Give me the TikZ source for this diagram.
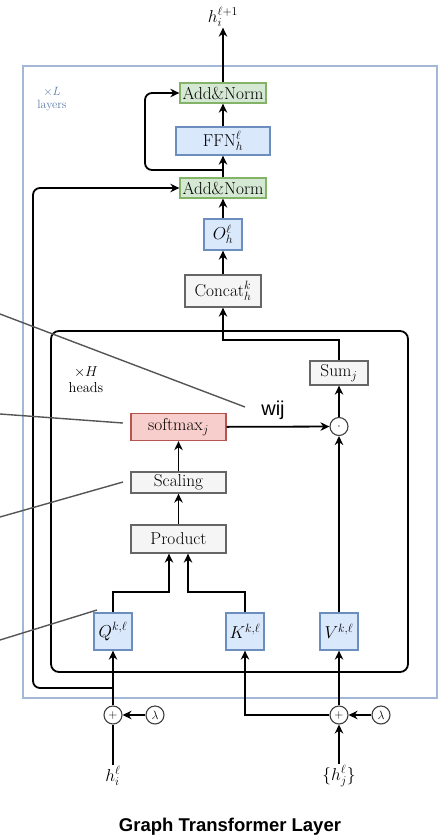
\documentclass[tikz,border=0pt]{standalone}
\usepackage{fontspec}
\newfontfamily\lsans{Liberation Sans}
\usetikzlibrary{arrows.meta,calc}
\definecolor{bfill}{HTML}{DAE8FC}\definecolor{bdraw}{HTML}{6C8EBF}
\definecolor{gfill}{HTML}{D5E8D4}\definecolor{gdraw}{HTML}{82B366}
\definecolor{rfill}{HTML}{F8CECC}\definecolor{rdraw}{HTML}{B85450}
\definecolor{kfill}{HTML}{F5F5F5}\definecolor{kdraw}{HTML}{666666}
\definecolor{outerc}{HTML}{A3B8D6}
\definecolor{layc}{HTML}{5B7BA6}
\definecolor{leadc}{HTML}{555555}
\begin{document}
\begin{tikzpicture}[x=1pt,y=-1pt,
  basebox/.style={draw, line width=1.3pt, inner sep=0pt, font=\fontsize{17.28}{20}\selectfont},
  bluebox/.style={basebox, fill=bfill, draw=bdraw},
  greenbox/.style={basebox, fill=gfill, draw=gdraw},
  redbox/.style={basebox, fill=rfill, draw=rdraw},
  graybox/.style={basebox, fill=kfill, draw=kdraw},
  circ/.style={circle, draw=black!75, line width=1.1pt, minimum size=18pt, inner sep=0pt, fill=white, font=\fontsize{12}{13}\selectfont},
  arr/.style={line width=1.8pt, -{Stealth[length=9pt,width=8.5pt]}},
  plain/.style={line width=1.8pt},
  lead/.style={line width=1.4pt, draw=leadc},
  lbl/.style={font=\fontsize{17.28}{20}\selectfont, inner sep=1pt}]
\useasboundingbox (0,0) rectangle (439,839);
% outer and inner frames
\draw[outerc, line width=1.1pt] (23,66) rectangle (437,698);
\draw[line width=1.8pt, rounded corners=8pt] (51,331) rectangle (408,672);
\node[font=\fontsize{12}{14}\selectfont, text=layc, align=center, inner sep=0pt] (layers) at (52,99) {$\times L$\\[-1pt]layers};
\node[font=\fontsize{14.4}{17}\selectfont, align=center, inner sep=0pt] (heads) at (86,380) {$\times H$\\[-1pt]heads};
% boxes
\node[greenbox, minimum width=86pt, minimum height=20pt] (an2) at (223,93) {Add\&Norm};
\node[bluebox, minimum width=94pt, minimum height=28pt] (ffn) at (223,141) {FFN$_h^\ell$};
\node[greenbox, minimum width=86pt, minimum height=20pt] (an1) at (223,188) {Add\&Norm};
\node[bluebox, minimum width=38pt, minimum height=31pt] (oh) at (223,234.5) {$O_h^\ell$};
\node[graybox, minimum width=76pt, minimum height=32pt] (concat) at (223,291) {Concat$_h^k$};
\node[graybox, minimum width=58pt, minimum height=24pt] (sum) at (339,373) {Sum$_j$};
\node[circ] (dot) at (339,426.5) {$\cdot$};
\node[redbox, minimum width=95pt, minimum height=27pt] (softmax) at (178.5,427) {softmax$_j$};
\node[graybox, minimum width=95pt, minimum height=21pt] (scaling) at (178.5,482.5) {Scaling};
\node[graybox, minimum width=95pt, minimum height=28pt] (product) at (178.5,539) {Product};
\node[bluebox, minimum width=38pt, minimum height=37pt] (Q) at (113,631.5) {$Q^{k,\ell}$};
\node[bluebox, minimum width=38pt, minimum height=37pt] (K) at (245,631.5) {$K^{k,\ell}$};
\node[bluebox, minimum width=38pt, minimum height=37pt] (V) at (339,631.5) {$V^{k,\ell}$};
\node[circ] (plus1) at (113,715) {$+$};
\node[circ] (lam1) at (155,715) {$\lambda$};
\node[circ] (plus2) at (339,715) {$+$};
\node[circ] (lam2) at (381,715) {$\lambda$};
\node[lbl] (hi) at (113,776) {$h_i^\ell$};
\node[lbl] (hj) at (339,776) {$\{h_j^\ell\}$};
\node[font=\fontsize{17.28}{20}\selectfont, inner sep=1pt] (out) at (223,17) {$h_i^{\ell+1}$};
\node[font=\lsans\fontsize{20}{22}\selectfont, inner sep=0pt] (wij) at (273,410) {wij};
\node[font=\lsans\bfseries\fontsize{18.5}{21}\selectfont, inner sep=0pt] (title) at (230,827) {Graph Transformer Layer};
% main chain
\draw[arr] (concat) -- (oh);
\draw[arr] (oh) -- (an1);
\draw[arr] (an1) -- (ffn);
\draw[arr] (ffn) -- (an2);
\draw[arr] (an2.north) -- (an2.north |- out.south);
\coordinate (r1) at (223,170);
\draw[arr, rounded corners=7pt] (r1) -- (145,170) -- (145,93) -- (an2.west);
\coordinate (r2) at (113,688);
\draw[arr, rounded corners=7pt] (r2) -- (33,688) -- (33,188) -- (an1.west);
% attention
\draw[arr] (sum.north) -- ++(0,-20) -| (concat.south);
\draw[arr] (dot) -- (sum);
\draw[arr] (V) -- (dot);
\draw[arr] (softmax) -- (dot);
\draw[arr] (scaling) -- (softmax);
\draw[arr] (product) -- (scaling);
\draw[arr] (Q.north) -- ++(0,-20) -| ([xshift=-9.5pt]product.south);
\draw[arr] (K.north) -- ++(0,-20) -| ([xshift=9.5pt]product.south);
% inputs
\draw[plain] (hi.north) -- (plus1);
\draw[arr] (hj.north) -- (plus2);
\draw[arr] (lam1) -- (plus1);
\draw[arr] (lam2) -- (plus2);
\draw[arr] (plus1) -- (Q);
\draw[arr] (plus2) -- (V);
\draw[arr] (plus2.west) -| (K.south);
% leader lines
\coordinate (g1) at (0,314);
\coordinate (g1e) at (245,407);
\coordinate (g2) at (0,414);
\coordinate (g2e) at (123,423);
\coordinate (g3) at (0,517);
\coordinate (g3e) at (123,482);
\coordinate (g4) at (0,640);
\coordinate (g4e) at (97,610);
\draw[lead] (g1) -- (g1e);
\draw[lead] (g2) -- (g2e);
\draw[lead] (g3) -- (g3e);
\draw[lead] (g4) -- (g4e);
\end{tikzpicture}
\end{document}
